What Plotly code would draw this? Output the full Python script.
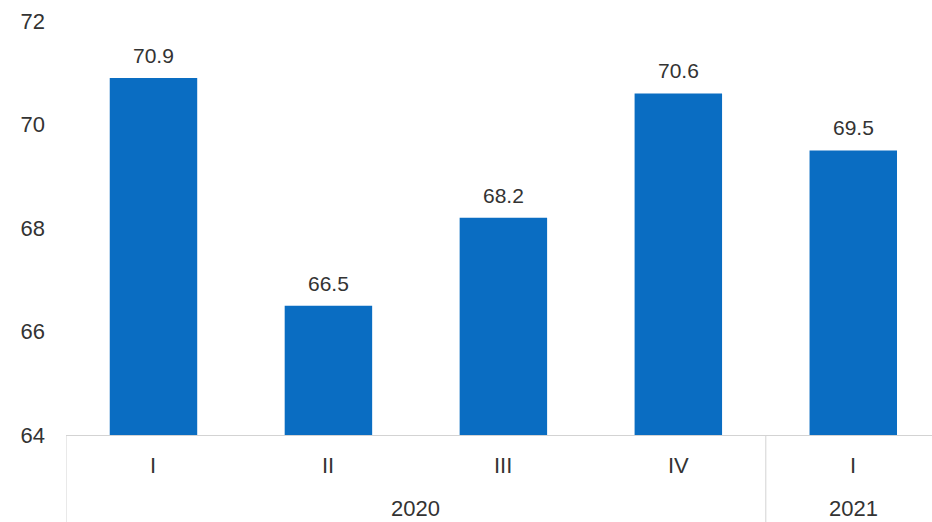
import plotly.graph_objects as go

# Quarterly index values
years = ["2020", "2020", "2020", "2020", "2021"]
quarters = ["I", "II", "III", "IV", "I"]
values = [70.9, 66.5, 68.2, 70.6, 69.5]
y_ticks = [64, 66, 68, 70, 72]

BAR_COLOR = "#0A6DC2"
TEXT_COLOR = "#333333"
LINE_COLOR = "#d3d3d3"
FONT = "Liberation Sans, Arial, sans-serif"

fig = go.Figure()
fig.add_trace(go.Bar(
    x=[years, quarters],
    y=values,
    marker=dict(color=BAR_COLOR, line=dict(width=0)),
    hoverinfo="skip",
))

# Value labels above each bar
for i, v in enumerate(values):
    fig.add_annotation(
        x=i, y=v, xref="x", yref="y",
        text=f"{v:.1f}", showarrow=False,
        yanchor="bottom", yshift=9,
        font=dict(family=FONT, size=21, color=TEXT_COLOR),
    )

# Two-level category labels: quarters on the first row, years below
for i, q in enumerate(quarters):
    fig.add_annotation(
        x=i, y=0, xref="x", yref="paper",
        text=q, showarrow=False, yanchor="middle", yshift=-30,
        font=dict(family=FONT, size=22, color=TEXT_COLOR),
    )

groups = []
for i, yr in enumerate(years):
    if groups and groups[-1][0] == yr:
        groups[-1][2] = i
    else:
        groups.append([yr, i, i])

for yr, start, end in groups:
    fig.add_annotation(
        x=(start + end) / 2, y=0, xref="x", yref="paper",
        text=yr, showarrow=False, yanchor="middle", yshift=-73,
        font=dict(family=FONT, size=22, color=TEXT_COLOR),
    )
    # divider at the left edge of each year group
    fig.add_shape(
        type="line", xref="x", yref="paper",
        x0=start - 0.5, x1=start - 0.5, y0=0, y1=-0.22,
        line=dict(color=LINE_COLOR, width=1),
    )

fig.update_layout(
    width=932, height=522,
    margin=dict(l=66, r=0, t=21, b=87),
    paper_bgcolor="white", plot_bgcolor="white",
    bargap=0.5,
    showlegend=False,
    font=dict(family=FONT, size=22, color=TEXT_COLOR),
)
fig.update_xaxes(
    type="multicategory",
    range=[-0.5, 4.45],
    showline=True, linecolor=LINE_COLOR, linewidth=1,
    showgrid=False, ticks="",
    showticklabels=False, showdividers=False,
)
fig.update_yaxes(
    range=[64, 72],
    tickvals=y_ticks,
    showgrid=False, zeroline=False, showline=False,
    ticks="", ticklabelstandoff=20,
    tickfont=dict(family=FONT, size=22, color=TEXT_COLOR),
)

fig.write_html("out.html")
